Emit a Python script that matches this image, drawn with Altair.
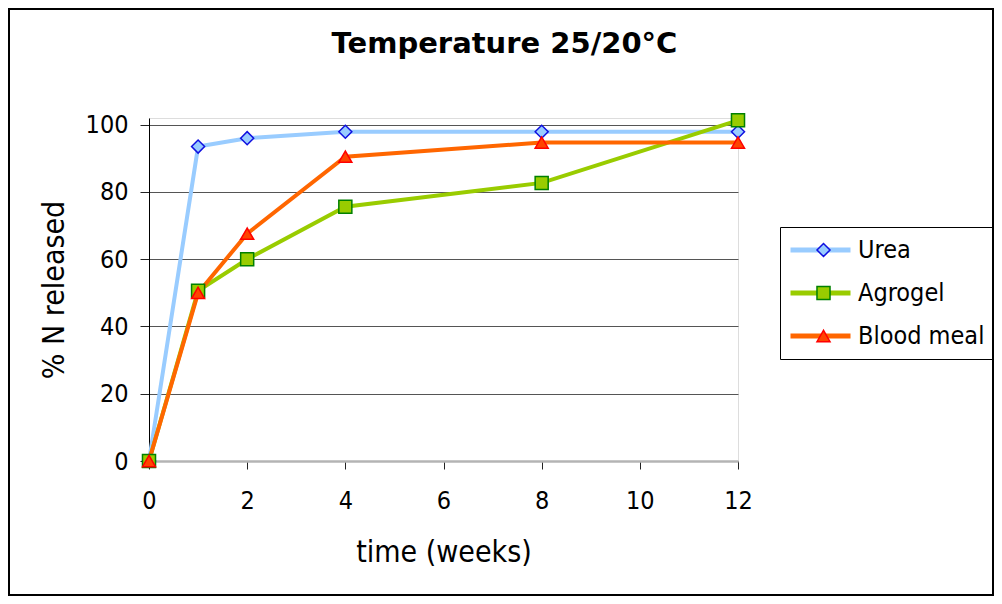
import altair as alt
import pandas as pd

weeks = [0, 1, 2, 4, 8, 12]
series_names = ["Urea", "Agrogel", "Blood meal"]
urea = [0, 93.5, 96, 97.9, 97.9, 97.9]
agrogel = [0, 50.6, 60, 75.6, 82.7, 101.3]
blood_meal = [0, 50.0, 67.6, 90.5, 94.7, 94.7]
y_ticks = [0, 20, 40, 60, 80, 100]
x_ticks = [0, 2, 4, 6, 8, 10, 12]

line_colors = ["#99CCFF", "#99CC00", "#FF6600"]
marker_fills = ["#99CCFF", "#99CC00", "#FF4400"]
marker_strokes = ["#1010E0", "#008000", "#FF0000"]
marker_shapes = ["diamond", "square", "triangle-up"]
marker_names = [n + " marker" for n in series_names]

rows = []
for name, mname, vals in zip(series_names, marker_names, [urea, agrogel, blood_meal]):
    for w, v in zip(weeks, vals):
        rows.append({"week": w, "pct": v, "series": name, "marker": mname})
df = pd.DataFrame(rows)

FONT = "DejaVu Sans Condensed, DejaVu Sans"

x_enc = alt.X(
    "week:Q",
    scale=alt.Scale(domain=[0, 12], nice=False, zero=False),
    axis=alt.Axis(
        values=x_ticks, title="time (weeks)", grid=False, labelFlush=False,
        domainColor="#B4B4B4", domainWidth=2.5,
        tickColor="#222222", tickSize=8, tickWidth=1,
        labelFont=FONT, labelFontSize=25, labelColor="black", labelPadding=19,
        titleFont=FONT, titleFontSize=30, titleFontWeight="normal",
        titleColor="black", titlePadding=24,
    ),
)
y_enc = alt.Y(
    "pct:Q",
    scale=alt.Scale(domain=[0, 102], nice=False),
    axis=alt.Axis(
        values=y_ticks, title="% N released",
        grid=True,
        gridColor=alt.condition("datum.value === 0", alt.value("transparent"), alt.value("#555555")),
        gridWidth=1,
        domainColor="black", domainWidth=1,
        tickColor="#222222", tickSize=9, tickWidth=1,
        labelFont=FONT, labelFontSize=25, labelColor="black", labelPadding=12,
        titleFont=FONT, titleFontSize=30, titleFontWeight="normal",
        titleColor="black", titlePadding=16,
    ),
)

legend_common = dict(
    orient="none", title=None, clipHeight=30, rowPadding=13, padding=8,
    labelFont=FONT, labelFontSize=25, labelColor="black", labelLimit=300,
)

lines = alt.Chart(df).mark_line(strokeWidth=4).encode(
    x=x_enc,
    y=y_enc,
    color=alt.Color(
        "series:N",
        scale=alt.Scale(domain=series_names, range=line_colors),
        legend=alt.Legend(
            legendX=631, legendY=109,
            symbolType="stroke", symbolSize=3600, symbolStrokeWidth=5,
            labelOffset=5, strokeColor="black",
            **legend_common,
        ),
    ),
)

pt_legend = alt.Legend(
    legendX=654, legendY=109,
    symbolSize=170, symbolStrokeWidth=1.5, labelOffset=0, labelExpr="''",
    **legend_common,
)
points = alt.Chart(df).mark_point(filled=True, size=170, strokeWidth=1.5, opacity=1).encode(
    x="week:Q",
    y="pct:Q",
    shape=alt.Shape("marker:N", scale=alt.Scale(domain=marker_names, range=marker_shapes), legend=pt_legend),
    fill=alt.Fill("marker:N", scale=alt.Scale(domain=marker_names, range=marker_fills), legend=pt_legend),
    stroke=alt.Stroke("marker:N", scale=alt.Scale(domain=marker_names, range=marker_strokes), legend=pt_legend),
)

border = alt.Chart(pd.DataFrame({"a": [0]})).mark_rect(
    fillOpacity=0, stroke="black", strokeWidth=2
).encode(
    x=alt.value(-140), x2=alt.value(844), y=alt.value(-109), y2=alt.value(477)
)

chart = alt.layer(border, lines, points).properties(
    width=589,
    height=343,
    autosize="none",
    padding={"left": 141, "top": 110, "right": 256, "bottom": 135},
    title=alt.TitleParams(
        "Temperature 25/20°C", font="DejaVu Sans", fontSize=29, fontWeight="bold",
        color="black", anchor="middle", dx=61, dy=74, offset=0, baseline="alphabetic",
    ),
).configure_view(stroke=None).configure(background="white")

chart.save("out.html", embed_options={"renderer": "svg", "actions": False})
